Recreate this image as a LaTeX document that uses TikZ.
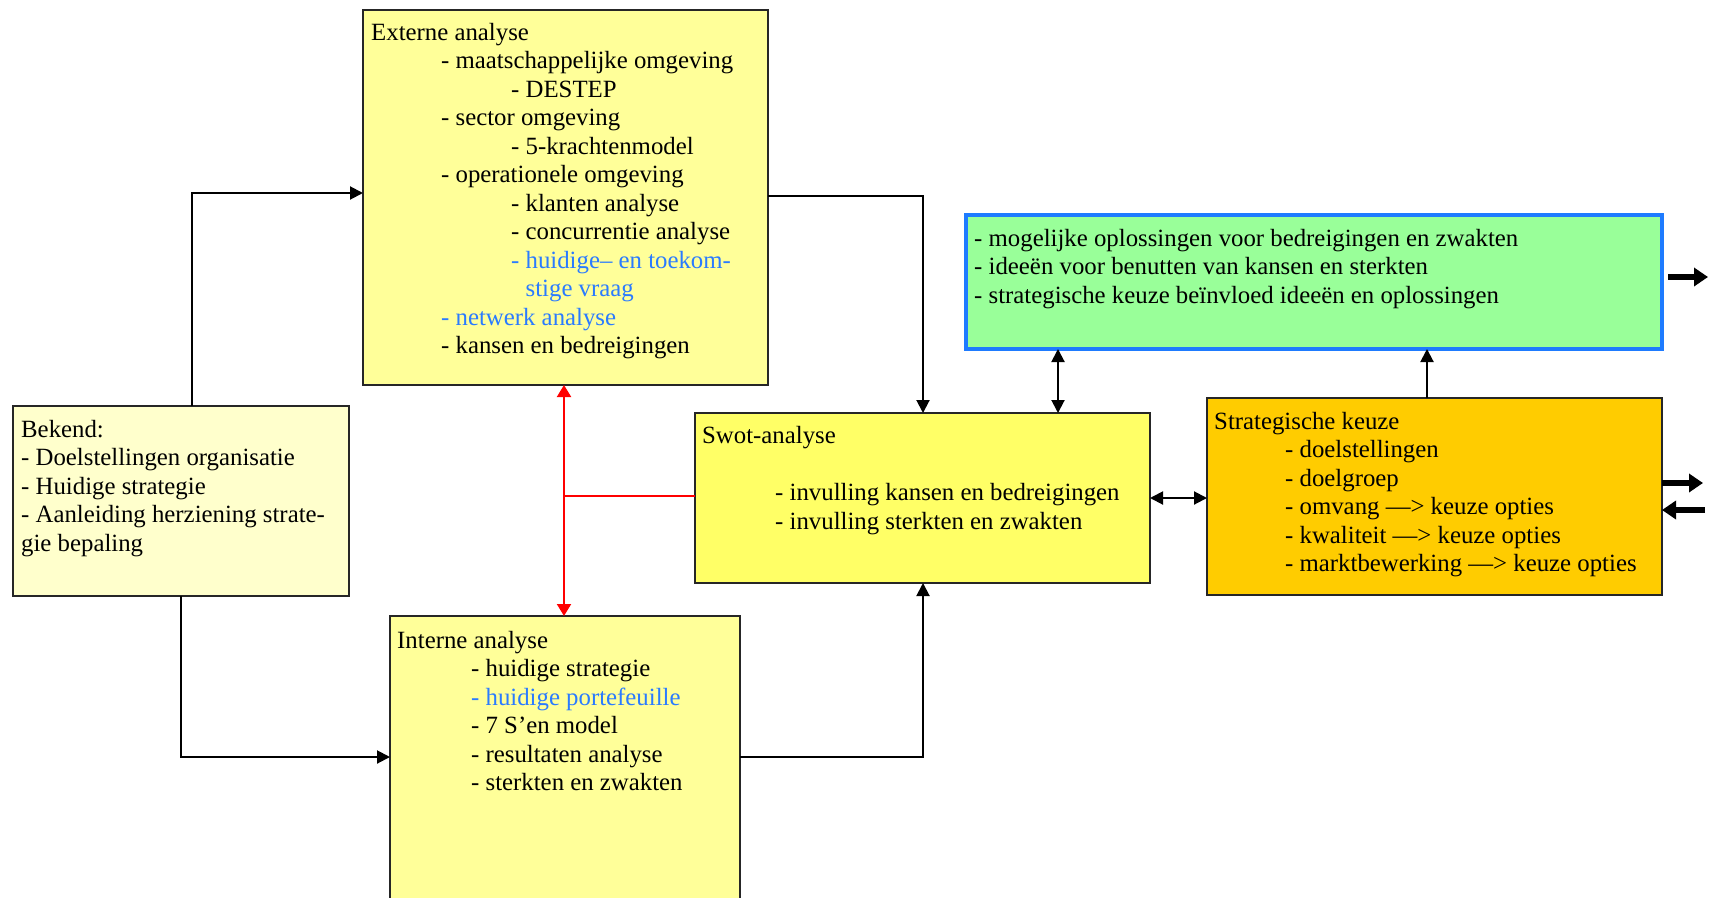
\documentclass[tikz,border=0pt]{standalone}
\usepackage{fontspec}
\setmainfont{Liberation Serif}
\usetikzlibrary{arrows.meta}
\definecolor{ylight}{HTML}{FFFF99}
\definecolor{ypale}{HTML}{FFFFCC}
\definecolor{yswot}{HTML}{FFFF66}
\definecolor{ystrat}{HTML}{FFCC00}
\definecolor{gbox}{HTML}{99FF99}
\definecolor{bborder}{HTML}{1E7BFF}
\definecolor{tblue}{HTML}{2A7BFF}
\begin{document}
\begin{tikzpicture}[x=1pt,y=-1pt,
  box/.style={draw=black!85, line width=2pt, inner sep=0pt, outer sep=0pt, anchor=north west},
  txt/.style={anchor=north west, inner sep=0pt, align=left, font=\fontsize{24.8}{28.5}\selectfont},
  conn/.style={line width=2pt, -{Triangle[length=13pt,width=13pt]}},
  conn2/.style={line width=2pt, {Triangle[length=13pt,width=13pt]}-{Triangle[length=13pt,width=13pt]}},
  redl/.style={line width=2pt, draw=red},
  red2/.style={line width=2pt, draw=red, {Triangle[length=12pt,width=14pt]}-{Triangle[length=12pt,width=14pt]}},
  thick/.style={line width=6pt, -{Triangle[length=14pt,width=18pt]}}]
\useasboundingbox (0,0) rectangle (1710,897);
\clip (0,0) rectangle (1710,897);
% boxes
\node[box, fill=ylight, minimum width=405pt, minimum height=375pt] (ext) at (363,10) {};
\node[box, fill=ypale, minimum width=336pt, minimum height=190pt] (bek) at (13,406) {};
\node[box, fill=ylight, minimum width=350pt, minimum height=310pt] (int) at (390,616) {};
\node[box, fill=yswot, minimum width=455pt, minimum height=170pt] (swot) at (695,413) {};
\node[box, fill=ystrat, minimum width=455pt, minimum height=197pt] (strat) at (1207,398) {};
\node[box, draw=bborder, line width=4pt, fill=gbox, minimum width=696pt, minimum height=134pt] (green) at (966,215) {};
% texts
\node[txt] (exttxt) at (371,22) {\rule{0pt}{18pt}Externe analyse\\
\hspace*{70pt}- maatschappelijke omgeving\\
\hspace*{140pt}- DESTEP\\
\hspace*{70pt}- sector omgeving\\
\hspace*{140pt}- 5-krachtenmodel\\
\hspace*{70pt}- operationele omgeving\\
\hspace*{140pt}- klanten analyse\\
\hspace*{140pt}- concurrentie analyse\\
\hspace*{140pt}{\color{tblue}- huidige– en toekom-}\\
\hspace*{140pt}\phantom{- }{\color{tblue}stige vraag}\\
\hspace*{70pt}{\color{tblue}- netwerk analyse}\\
\hspace*{70pt}- kansen en bedreigingen};
\node[txt] (bektxt) at (21,419) {\rule{0pt}{18pt}Bekend:\\
- Doelstellingen organisatie\\
- Huidige strategie\\
- Aanleiding herziening strate-\\
gie bepaling};
\node[txt] (inttxt) at (397,630) {\rule{0pt}{18pt}Interne analyse\\
\hspace*{74pt}- huidige strategie\\
\hspace*{74pt}{\color{tblue}- huidige portefeuille}\\
\hspace*{74pt}- 7 S’en model\\
\hspace*{74pt}- resultaten analyse\\
\hspace*{74pt}- sterkten en zwakten};
\node[txt] (swottxt) at (702,425) {\rule{0pt}{18pt}Swot-analyse\\[29pt]
\hspace*{73pt}- invulling kansen en bedreigingen\\
\hspace*{73pt}- invulling sterkten en zwakten};
\node[txt] (strattxt) at (1214,411) {\rule{0pt}{18pt}Strategische keuze\\
\hspace*{71pt}- doelstellingen\\
\hspace*{71pt}- doelgroep\\
\hspace*{71pt}- omvang —> keuze opties\\
\hspace*{71pt}- kwaliteit —> keuze opties\\
\hspace*{71pt}- marktbewerking —> keuze opties};
\node[txt] (greentxt) at (974,228) {\rule{0pt}{18pt}- mogelijke oplossingen voor bedreigingen en zwakten\\
- ideeën voor benutten van kansen en sterkten\\
- strategische keuze beïnvloed ideeën en oplossingen};
% junction coordinates
\coordinate (j1) at (192,193);
\coordinate (j2) at (181,757);
\coordinate (j3) at (923,196);
\coordinate (j4) at (923,757);
\coordinate (j5) at (564,496);
\coordinate (j6) at (1058,300);
\coordinate (j7) at (1427,300);
\coordinate (j8) at (1180,498);
\coordinate (o1s) at (1668,277);
\coordinate (o1e) at (1708,277);
\coordinate (o2e) at (1703,483);
\coordinate (o3s) at (1705,510);
% connectors
\draw[conn] (bek.north -| j1) |- (ext.west |- j1);
\draw[conn] (bek.south -| j2) |- (int.west |- j2);
\draw[conn] (ext.east |- j3) -| (swot.north -| j3);
\draw[conn] (int.east |- j4) -| (swot.south -| j4);
\draw[red2] (ext.south -| j5) -- (int.north -| j5);
\draw[redl] (swot.west |- j5) -- (j5);
\draw[conn2] (green.south -| j6) -- (swot.north -| j6);
\draw[conn] (strat.north -| j7) -- (green.south -| j7);
\draw[conn2] (swot.east |- j8) -- (strat.west |- j8);
\draw[thick] (o1s) -- (o1e);
\draw[thick] (strat.east |- o2e) -- (o2e);
\draw[thick] (o3s) -- (strat.east |- o3s);
\end{tikzpicture}
\end{document}
